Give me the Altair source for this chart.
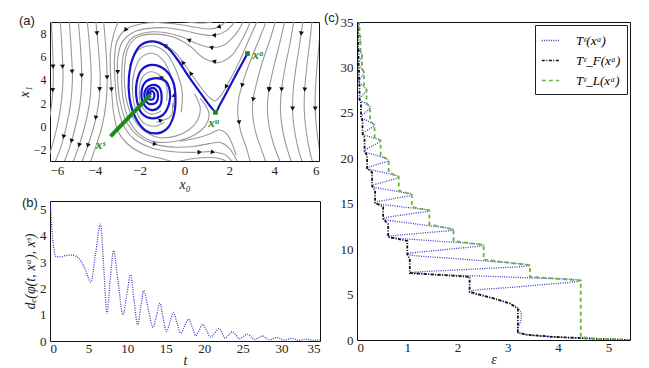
import math
import altair as alt
import pandas as pd

# ---------------- panel (a): phase portrait ----------------
# streamlines, each listed in the direction of the flow as (x0, x1) pairs
STREAMLINES = [
    # far left, falling
    [(-5.95, 9.3), (-5.88, 6.5), (-5.85, 4.0), (-5.92, 2.0), (-6.08, 0.0), (-6.3, -2.0)],
    [(-5.55, 9.3), (-5.46, 6.5), (-5.42, 4.0), (-5.5, 2.0), (-5.68, 0.0), (-5.95, -2.0), (-6.15, -3.2)],
    [(-5.15, 9.3), (-5.05, 6.5), (-5.0, 4.0), (-5.08, 2.0), (-5.27, 0.0), (-5.55, -2.0), (-5.8, -3.2)],
    [(-4.75, 9.3), (-4.63, 6.5), (-4.58, 4.0), (-4.66, 2.0), (-4.86, 0.0), (-5.15, -2.0), (-5.4, -3.2)],
    [(-4.35, 9.3), (-4.22, 6.5), (-4.16, 4.0), (-4.24, 2.0), (-4.45, 0.0), (-4.76, -2.0), (-5.0, -3.2)],
    [(-3.97, 9.3), (-3.83, 6.5), (-3.76, 4.0), (-3.83, 2.0), (-4.04, 0.0), (-4.37, -2.0), (-4.6, -3.2)],
    [(-3.62, 9.3), (-3.5, 6.5), (-3.45, 4.0), (-3.5, 2.0), (-3.68, 0.0), (-4.0, -2.0), (-4.22, -3.2)],
    [(-2.9, 9.3), (-3.15, 8.0), (-3.3, 6.5), (-3.3, 4.5), (-3.25, 3.0), (-3.15, 1.0), (-2.95, -0.5),
     (-2.5, -1.6), (-1.8, -2.4), (-1.0, -2.8), (-0.3, -3.2)],
    # from the upper right, over the focus and down its left side
    [(1.6, 9.3), (1.1, 8.95), (0.4, 8.95), (-0.4, 9.15), (-0.9, 9.3)],
    [(2.0, 9.3), (1.55, 8.6), (1.1, 8.4), (0.5, 8.55), (-0.3, 8.8), (-1.1, 8.95), (-1.9, 8.85),
     (-2.6, 8.4), (-3.0, 7.4), (-3.12, 6.0), (-3.1, 4.0), (-3.0, 2.0), (-2.75, 0.2), (-2.25, -1.1),
     (-1.5, -1.85), (-0.5, -2.2), (0.5, -2.25), (1.2, -2.2), (1.8, -2.45), (2.2, -3.2)],
    [(2.35, 9.3), (1.9, 8.3), (1.35, 7.85), (0.7, 7.95), (0.0, 8.25), (-0.8, 8.5), (-1.6, 8.45),
     (-2.3, 8.1), (-2.8, 7.2), (-2.98, 5.8), (-2.98, 4.0), (-2.88, 2.2), (-2.62, 0.5),
     (-2.12, -0.75), (-1.4, -1.5), (-0.5, -1.8), (0.4, -1.75), (1.1, -1.5), (1.6, -1.4),
     (2.0, -1.9), (2.4, -3.2)],
    [(2.7, 9.3), (2.3, 8.0), (1.75, 7.0), (1.2, 6.8), (0.6, 7.1), (-0.1, 7.7), (-0.9, 8.1),
     (-1.7, 8.1), (-2.35, 7.6), (-2.7, 6.4), (-2.8, 4.5), (-2.75, 2.5), (-2.5, 0.6), (-2.0, -0.7),
     (-1.3, -1.35), (-0.4, -1.3), (0.4, -0.8), (0.95, 0.1), (1.1, 1.0), (1.0, 1.6), (0.7, 2.4)],
    [(3.0, 9.3), (2.6, 7.6), (2.1, 6.1), (1.5, 5.5), (0.85, 5.9), (0.25, 6.9), (-0.5, 7.7),
     (-1.4, 7.95), (-2.15, 7.65), (-2.55, 6.6), (-2.68, 4.8), (-2.62, 2.6), (-2.35, 0.9),
     (-1.85, -0.3), (-1.2, -0.95), (-0.4, -0.85), (0.2, -0.3), (0.6, 0.6), (0.7, 1.6), (0.45, 2.8)],
    [(3.3, 9.3), (2.9, 7.6), (2.45, 5.6), (2.0, 3.9), (1.6, 2.6), (1.35, 2.2), (1.05, 2.6),
     (0.6, 3.7), (0.05, 5.2), (-0.45, 6.45), (-1.1, 7.25)],
    # below the saddle
    [(-0.6, -3.2), (0.2, -2.85), (1.0, -2.7), (1.6, -2.8), (2.0, -3.2)],
    [(-0.2, -1.3), (0.6, -1.0), (1.2, -0.6), (1.55, -0.3), (1.85, -0.6), (2.1, -1.4), (2.3, -2.5)],
    # inner turns around the focus
    [(-0.5, 1.6), (-0.45, 3.0), (-0.65, 4.6), (-1.0, 5.8), (-1.45, 6.3), (-1.95, 5.9),
     (-2.25, 4.6), (-2.32, 3.0), (-2.15, 1.3), (-1.8, 0.25), (-1.35, 0.0), (-0.9, 0.35)],
    [(-0.8, 2.2), (-0.78, 3.2), (-0.95, 4.1), (-1.45, 4.7), (-1.85, 4.3), (-2.02, 3.0),
     (-1.9, 1.7), (-1.5, 1.05), (-1.05, 1.3)],
    [(-0.15, 1.2), (-0.1, 2.9), (-0.35, 4.7), (-0.85, 6.4), (-1.45, 6.95), (-2.05, 6.6),
     (-2.45, 5.2)],
    [(-1.25, 0.35), (-0.6, 0.9), (-0.55, 2.0)],
    # right of the saddle, falling
    [(3.7, 9.3), (3.35, 7.6), (2.95, 5.7), (2.62, 3.9), (2.42, 2.4), (2.38, 1.0), (2.5, -0.4),
     (2.75, -1.8), (2.95, -3.2)],
    [(4.1, 9.3), (3.8, 7.4), (3.45, 5.4), (3.2, 3.6), (3.05, 2.2), (3.05, 0.8), (3.2, -0.7),
     (3.45, -2.1), (3.65, -3.2)],
    [(4.5, 9.3), (4.25, 7.2), (3.98, 5.1), (3.78, 3.3), (3.7, 1.8), (3.75, 0.3), (3.92, -1.2),
     (4.15, -2.5), (4.3, -3.2)],
    [(4.9, 9.3), (4.7, 7.1), (4.48, 5.0), (4.33, 3.2), (4.28, 1.6), (4.34, 0.1), (4.5, -1.4),
     (4.7, -2.7), (4.8, -3.2)],
    [(5.3, 9.3), (5.13, 7.0), (4.96, 4.9), (4.85, 3.1), (4.82, 1.5), (4.88, 0.0), (5.02, -1.5),
     (5.2, -2.8), (5.28, -3.2)],
    [(5.7, 9.3), (5.57, 7.0), (5.44, 4.9), (5.36, 3.1), (5.34, 1.5), (5.4, 0.0), (5.52, -1.5),
     (5.67, -2.8), (5.74, -3.2)],
    [(6.1, 9.3), (6.0, 7.0), (5.9, 4.9), (5.84, 3.1), (5.83, 1.5), (5.88, 0.0), (5.98, -1.5),
     (6.1, -2.8)],
]

# where the arrow heads sit along the streamlines
ARROW_X0 = [-5.97, -5.72, -5.33, -4.92, -4.55, -4.05, -3.87, -3.6, -3.35, -2.9, -2.7,
            -6.04, -5.42, -5.0, -4.59, -4.17, -4.13,
            -0.82, 0.15, 1.53, 1.31, 1.19, 1.31, 1.31, 0.56, -0.19, -0.99, -0.34, -1.09,
            -1.32, 0.68, 1.25, 2.62,
            2.7, 3.08, 3.59, 4.04, 4.46, 5.36, 5.21, 4.84, 5.74]
ARROW_X1 = [3.13, 5.15, 5.15, 4.72, 4.37, 8.0, 3.2, 4.2, 3.16, 4.68, 8.4,
            -0.78, -0.9, -1.3, -1.7, -1.75, 0.8,
            7.14, 7.28, 8.5, 7.92, 6.85, 5.6, 4.03, 4.98, 5.35, 4.4, 2.7, 0.68,
            -1.6, -2.3, -2.4, 0.38,
            3.45, 2.3, 3.16, 3.16, 3.16, 3.16, 8.0, 1.52, 1.52]

# trajectory from x^a past the saddle x^u into the focus x^s
TRAJ_X0 = [2.81, 2.35, 1.9, 1.55, 1.4, 1.2, 0.7, 0.15, -0.35, -0.8, -1.4, -1.95, -2.3, -2.48,
           -2.45, -2.2, -1.75, -1.25, -0.8, -0.5, -0.4, -0.5, -0.85, -1.45, -1.9, -2.13, -2.12,
           -1.9, -1.45, -0.95, -0.68, -0.66, -0.85, -1.35, -1.75, -1.92, -1.8, -1.45, -1.12,
           -1.02, -1.15, -1.45, -1.72, -1.78, -1.6, -1.3, -1.18, -1.3, -1.5, -1.66, -1.6, -1.4,
           -1.35, -1.47, -1.58, -1.47]
TRAJ_X1 = [6.28, 4.65, 3.0, 1.75, 1.25, 1.6, 2.9, 4.4, 5.85, 6.85, 7.33, 7.0, 5.9, 4.2,
           2.4, 0.8, -0.35, -0.62, -0.25, 0.8, 2.3, 3.8, 4.85, 5.29, 4.9, 3.8, 2.2,
           1.1, 0.68, 1.0, 2.0, 3.1, 3.9, 4.14, 3.8, 2.9, 1.85, 1.4, 1.7,
           2.6, 3.4, 3.56, 3.2, 2.5, 1.95, 2.0, 2.6, 3.2, 3.28, 2.9, 2.35, 2.35,
           2.8, 3.05, 2.8, 2.84]

# marked points and the pointer to the focus
PT_NAMES = ["xᵃ", "xᵘ", "xˢ"]
PT_X0 = [2.81, 1.38, -1.47]
PT_X1 = [6.28, 1.2, 2.84]
POINTER_X0 = [-3.3, -1.52]
POINTER_X1 = [-0.87, 2.7]

# ---------------- panels (b) and (c): distance along the trajectory ----------------
T_VALS = [0.0, 0.15, 0.35, 0.6, 0.85, 1.3, 2.0, 2.8, 3.4, 4.0, 4.6, 5.3, 5.9, 6.55, 6.95, 7.38,
          7.8, 8.22, 8.85, 9.45, 9.95, 10.45, 10.9, 11.35, 11.75, 12.15, 12.75, 13.35, 13.8,
          14.25, 14.65, 15.1, 15.55, 16.0, 16.45, 16.95, 17.45, 17.95, 18.45, 18.9, 19.35, 19.8,
          20.3, 20.8, 21.4, 21.95, 22.3, 22.7, 23.2, 23.65, 24.1, 24.55, 25.05, 25.6, 26.1, 26.5,
          27.0, 27.55, 28.0, 28.45, 28.95, 29.45, 29.9, 30.35, 30.85, 31.35, 31.8, 32.25, 32.75,
          33.25, 33.7, 34.15, 34.6, 35.0]
D_VALS = [5.42, 4.7, 3.9, 3.35, 3.2, 3.2, 3.25, 3.27, 3.22, 3.05, 2.7, 2.24, 3.3, 4.45, 2.9,
          1.05, 2.3, 3.44, 2.2, 1.0, 1.75, 2.52, 1.55, 0.62, 1.25, 1.92, 1.2, 0.52, 0.95, 1.44,
          0.9, 0.36, 0.72, 1.09, 0.7, 0.3, 0.57, 0.83, 0.52, 0.2, 0.42, 0.63, 0.4, 0.15, 0.32,
          0.47, 0.3, 0.11, 0.24, 0.35, 0.22, 0.08, 0.17, 0.26, 0.15, 0.05, 0.12, 0.19, 0.11,
          0.04, 0.09, 0.14, 0.08, 0.03, 0.07, 0.1, 0.06, 0.02, 0.05, 0.07, 0.04, 0.02, 0.04, 0.05]

SERIES = ["Tᵋ(xᵃ)", "Tᵋ_F(xᵃ)", "Tᵋ_L(xᵃ)"]
SERIES_COLORS = ["#3a3ac4", "#111111", "#6cb33f"]
SERIES_DASH = [[1, 1.3], [3, 1.5, 1, 1.5], [4, 3]]

SERIF = "Liberation Serif"
SANS = "Liberation Sans"
STREAM_GREY = "#999999"

# plot-area sizes (px)
A_W, A_H = 269, 139
B_W, B_H = 270, 140
C_W, C_H = 273, 318

# ---------- build tables ----------
rows = []
for i, line in enumerate(STREAMLINES):
    for j, (u, v) in enumerate(line):
        rows.append({"sid": i, "k": j, "x0": u, "x1": v})
streams = pd.DataFrame(rows)

# each arrow head is snapped onto the nearest streamline and turned along it
sx, sy = A_W / 12.0, A_H / 12.0
heads = []
for ax_, ay_ in zip(ARROW_X0, ARROW_X1):
    best = None
    for line in STREAMLINES:
        for p, q in zip(line[:-1], line[1:]):
            vx, vy = (q[0] - p[0]) * sx, (q[1] - p[1]) * sy
            wx, wy = (ax_ - p[0]) * sx, (ay_ - p[1]) * sy
            L2 = vx * vx + vy * vy
            s = max(0.0, min(1.0, (wx * vx + wy * vy) / L2)) if L2 else 0.0
            dd = (wx - s * vx) ** 2 + (wy - s * vy) ** 2
            if best is None or dd < best[0]:
                best = (dd, p[0] + s * (q[0] - p[0]), p[1] + s * (q[1] - p[1]), vx, vy)
    _, hx, hy, vx, vy = best
    heads.append({"x0": hx, "x1": hy, "ang": math.degrees(math.atan2(vx, vy)) % 360})
heads = pd.DataFrame(heads)

traj = pd.DataFrame({"k": range(len(TRAJ_X0)), "x0": TRAJ_X0, "x1": TRAJ_X1})
pointer = pd.DataFrame({"k": [0, 1], "x0": POINTER_X0, "x1": POINTER_X1})
marks = pd.DataFrame({"name": PT_NAMES, "x0": PT_X0, "x1": PT_X1})
dist = pd.DataFrame({"t": T_VALS, "d": D_VALS})

xa = alt.X("x0:Q", scale=alt.Scale(domain=[-6, 6], nice=False, zero=False),
           axis=alt.Axis(values=[-6, -4, -2, 0, 2, 4, 6], title="x₀", labelOverlap=False))
ya = alt.Y("x1:Q", scale=alt.Scale(domain=[-3, 9], nice=False, zero=False),
           axis=alt.Axis(values=[-2, 0, 2, 4, 6, 8], title="x₁", labelOverlap=False,
                         labelFontSize=12, labelSeparation=0))

stream_layer = alt.Chart(streams).mark_line(
    color=STREAM_GREY, strokeWidth=1.1, interpolate="catmull-rom", clip=True
).encode(x=xa, y=ya, detail="sid:N", order="k:Q")

head_layer = alt.Chart(heads).mark_point(
    shape="triangle-up", filled=True, color="#111111", size=24, opacity=1, clip=True
).encode(x=xa, y=ya, angle=alt.Angle("ang:Q", scale=None))

traj_layer = alt.Chart(traj).mark_line(
    color="#1414cc", strokeWidth=2.2, interpolate="catmull-rom"
).encode(x=xa, y=ya, order="k:Q")

pointer_layer = alt.Chart(pointer).mark_line(
    color="#1a8a1a", strokeWidth=4
).encode(x=xa, y=ya, order="k:Q")

dots_layer = alt.Chart(marks).transform_filter(
    alt.datum.name != "xˢ"
).mark_square(color="#1a8a1a", size=22, opacity=1).encode(x=xa, y=ya)

label_a = alt.Chart(marks).transform_filter(alt.datum.name == "xᵃ").mark_text(
    font=SERIF, fontStyle="italic", fontWeight="bold", fontSize=13, color="#1a8a1a",
    align="left", dx=5, dy=1
).encode(x=xa, y=ya, text="name:N")
label_u = alt.Chart(marks).transform_filter(alt.datum.name == "xᵘ").mark_text(
    font=SERIF, fontStyle="italic", fontWeight="bold", fontSize=13, color="#1a8a1a",
    align="center", dx=-2, dy=11
).encode(x=xa, y=ya, text="name:N")
label_s = alt.Chart(pointer.head(1).assign(name="xˢ")).mark_text(
    font=SERIF, fontStyle="italic", fontWeight="bold", fontSize=13, color="#1a8a1a",
    align="center", dx=-10, dy=9
).encode(x=xa, y=ya, text="name:N")


def panel_title(text, dx, top):
    # letter sits just left of the frame; its top is `top` px above the plot area
    return alt.TitleParams(text, anchor="start", frame="group", orient="top",
                           offset=-(13 - top), dx=dx, font=SANS, fontSize=13,
                           fontWeight="normal")


panel_a = alt.layer(
    stream_layer, head_layer, traj_layer, pointer_layer, dots_layer, label_a, label_u, label_s
).properties(width=A_W, height=A_H, title=panel_title("(a)", -31, 7))

# ---------- panel (b) ----------
panel_b = alt.Chart(dist).mark_line(
    color=SERIES_COLORS[0], strokeWidth=1.3, strokeDash=SERIES_DASH[0],
    interpolate="monotone", clip=True
).encode(
    x=alt.X("t:Q", scale=alt.Scale(domain=[0, 35], nice=False),
            axis=alt.Axis(values=list(range(0, 36, 5)), title="t", labelPadding=1,
                          titlePadding=-2)),
    y=alt.Y("d:Q", scale=alt.Scale(domain=[0, 5.33], nice=False),
            axis=alt.Axis(values=[0, 1, 2, 3, 4, 5], title="dₑ(φ(t, xᵃ), xˢ)")),
).properties(width=B_W, height=B_H, title=panel_title("(b)", -28, 4))

# ---------- panel (c): first entry / last exit times ----------
color_scale = alt.Scale(domain=SERIES, range=SERIES_COLORS)
dash_scale = alt.Scale(domain=SERIES, range=SERIES_DASH)
legend = alt.Legend(
    title=None, orient="top-right", offset=3, strokeColor="#222222", fillColor="white",
    padding=6, labelFont=SERIF, labelFontStyle="italic", labelFontSize=13,
    symbolType="stroke", symbolSize=300, symbolStrokeWidth=1.6, rowPadding=3,
    labelOffset=16,
)

base_c = alt.Chart(dist).transform_window(
    tf="min(d)", frame=[None, 0], sort=[alt.SortField("t")]
).transform_window(
    tl="max(d)", frame=[0, None], sort=[alt.SortField("t")]
).transform_calculate(
    **{SERIES[0]: "datum.d", SERIES[1]: "datum.tf", SERIES[2]: "datum.tl"}
).transform_fold(SERIES, as_=["series", "eps"])

xc = alt.X("eps:Q", scale=alt.Scale(domain=[0, 5.43], nice=False),
           axis=alt.Axis(values=[0, 1, 2, 3, 4, 5], title="ε", labelPadding=1,
                         titlePadding=-2))
yc = alt.Y("t:Q", scale=alt.Scale(domain=[0, 35], nice=False),
           axis=alt.Axis(values=list(range(0, 36, 5)), title=None))
enc_c = dict(
    x=xc, y=yc, order="t:Q",
    color=alt.Color("series:N", scale=color_scale, legend=legend),
    strokeDash=alt.StrokeDash("series:N", scale=dash_scale, legend=legend),
)

c_blue = base_c.transform_filter(alt.datum.series == SERIES[0]).mark_line(
    strokeWidth=1.3, interpolate="catmull-rom", clip=True).encode(**enc_c)
c_black = base_c.transform_filter(alt.datum.series == SERIES[1]).mark_line(
    strokeWidth=1.8, clip=True).encode(**enc_c)
c_green = base_c.transform_filter(alt.datum.series == SERIES[2]).mark_line(
    strokeWidth=1.8, clip=True).encode(**enc_c)

panel_c = alt.layer(c_blue, c_black, c_green).properties(
    width=C_W, height=C_H, title=panel_title("(c)", -33, 4))

left = alt.vconcat(panel_a, panel_b, spacing=4)
chart = alt.hconcat(left, panel_c, spacing=2).resolve_scale(
    color="independent", strokeDash="independent"
).resolve_legend(
    color="independent", strokeDash="independent"
).properties(
    padding={"left": 16, "top": 11, "right": 5, "bottom": 0},
    background="white",
).configure_view(
    stroke="#111111", strokeWidth=1
).configure_axis(
    domain=False, ticks=False, grid=False, labelFont=SERIF, labelFontSize=13,
    labelColor="#222222", labelPadding=4, labelOverlap=False, titleFont=SERIF,
    titleFontStyle="italic", titleFontSize=14, titleFontWeight="normal", titleColor="#222222",
    titlePadding=2,
).configure_axisX(labelPadding=3, titlePadding=0).configure_title(color="#222222")

chart.save("out.html", embed_options={"renderer": "svg", "actions": False})
